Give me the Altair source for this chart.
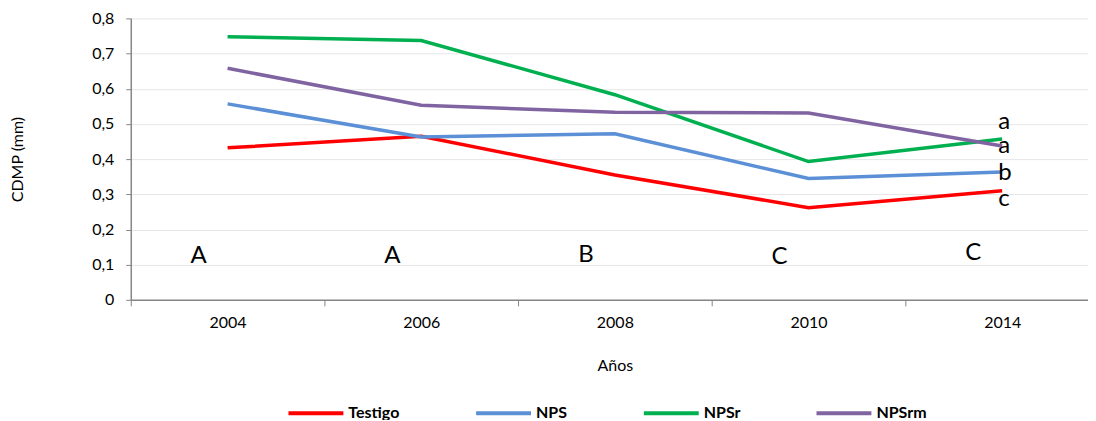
import altair as alt
import pandas as pd

years = ["2004", "2006", "2008", "2010", "2014"]
series = ["Testigo", "NPS", "NPSr", "NPSrm"]
colors = ["#FF0000", "#5B8FD6", "#00B050", "#8064A2"]
testigo = [0.432, 0.465, 0.355, 0.262, 0.310]
nps = [0.557, 0.463, 0.472, 0.345, 0.363]
npsr = [0.748, 0.737, 0.583, 0.393, 0.457]
npsrm = [0.658, 0.553, 0.533, 0.531, 0.437]

year_letters = ["A", "A", "B", "C", "C"]
year_letter_y = [0.125, 0.125, 0.128, 0.122, 0.133]
end_letters = ["a", "a", "b", "c"]
end_letter_y = [0.505, 0.437, 0.360, 0.287]

rows = []
for name, vals in zip(series, [testigo, nps, npsr, npsrm]):
    for i, (yr, v) in enumerate(zip(years, vals)):
        rows.append({"year": yr, "serie": name, "value": v, "order": i})
df = pd.DataFrame(rows)

df_l1 = pd.DataFrame({"year": years, "letter": year_letters, "value": year_letter_y})
df_l2 = pd.DataFrame({"year": ["2014"] * 4, "letter": end_letters, "value": end_letter_y})

FONT = "Lato"
xscale = alt.Scale(type="band", domain=years, paddingInner=0, paddingOuter=0, range=[0, 970])
yscale = alt.Scale(domain=[0, 0.8])

x_axis = alt.Axis(
    title="Años", tickBand="extent", labelAngle=0, labelFontSize=16,
    labelPadding=9, tickSize=6, tickColor="#868686", domainColor="#868686",
    domainWidth=1.5, titleFontSize=16, titleFontWeight="normal",
    titleY=66, titleBaseline="middle", grid=False, labelOverlap=False,
)
y_axis = alt.Axis(
    title="CDMP  (mm)", values=[0, 0.1, 0.2, 0.3, 0.4, 0.5, 0.6, 0.7, 0.8],
    labelExpr="datum.value == 0 ? '0' : replace(format(datum.value, '.1f'), '.', ',')",
    labelFontSize=16, labelPadding=12, tickSize=5, tickColor="#868686",
    domainColor="#868686", domainWidth=1.5, gridColor="#E6E6E6", gridWidth=1,
    titleFontSize=16, titleFontWeight="normal", titleX=-113, titleY=141,
    titleAngle=-90, titleBaseline="middle", titleAlign="center",
    labelOverlap=False,
)


def xe():
    return alt.X("year:O", scale=xscale, bandPosition=0.5, sort=years, axis=x_axis)


def ye():
    return alt.Y("value:Q", scale=yscale, axis=y_axis)


lines = alt.Chart(df).mark_line(strokeWidth=3.5).encode(
    x=xe(),
    y=ye(),
    color=alt.Color(
        "serie:N", scale=alt.Scale(domain=series, range=colors), sort=series,
        legend=alt.Legend(
            title=None, orient="none", direction="horizontal", columns=4,
            legendX=156, legendY=366, symbolType="stroke", symbolSize=3025,
            symbolStrokeWidth=4, labelFontSize=16, labelFontWeight="bold",
            labelColor="#000000", columnPadding=68, gridAlign="none",
            labelOffset=3, padding=0,
        ),
    ),
    order="order:Q",
)

t1 = alt.Chart(df_l1).mark_text(fontSize=24, dx=-29, baseline="middle", font=FONT, color="#000000").encode(
    x=xe(), y=ye(), text="letter:N",
)
t2 = alt.Chart(df_l2).mark_text(fontSize=24, dx=-4, align="left", baseline="middle", font=FONT, color="#000000").encode(
    x=xe(), y=ye(), text="letter:N",
)

chart = alt.layer(lines, t1, t2).properties(
    width=959, height=282,
    autosize=alt.AutoSizeParams(type="none"),
    padding={"left": 123, "top": 10, "right": 0, "bottom": 120},
).configure(font=FONT).configure_view(stroke=None).configure_axis(
    labelColor="#000000", titleColor="#000000", labelFont=FONT, titleFont=FONT,
    labelFontSize=16, titleFontSize=16,
).configure_legend(labelFont=FONT)

chart.save("out.html", embed_options={"renderer": "svg", "actions": False})
